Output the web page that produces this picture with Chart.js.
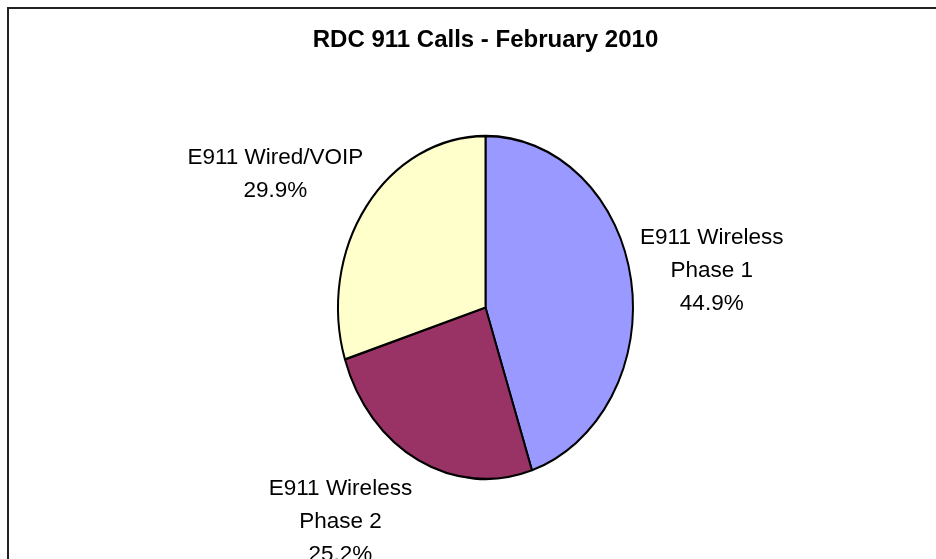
<!DOCTYPE html>
<html>
<head>
<meta charset="utf-8">
<script src="https://cdn.jsdelivr.net/npm/chart.js@4"></script>
<style>
    html, body { margin: 0; padding: 0; background: #fff; }
    #pieChart { display: block; }
</style>
</head>
<body>
<canvas id="pieChart" width="936" height="559"></canvas>
<script>
const chartTitle = 'RDC 911 Calls - February 2010';
const categories = [['E911 Wireless', 'Phase 1'], ['E911 Wireless', 'Phase 2'], ['E911 Wired/VOIP']];
const shares = [44.9, 25.2, 29.9];
const sliceColors = ['#9999FF', '#993366', '#FFFFCC'];

// pie is stretched vertically (plot area was taller than wide)
const Y_STRETCH = 171.5 / 147.5;
const LINE_H = 33;
// small manual nudges for label boxes, px
const labelShift = [[0, 0], [-41, 7], [-12, -6]];

const framePlugin = {
    id: 'frame',
    beforeDraw(chart) {
        const ctx = chart.ctx;
        ctx.save();
        ctx.fillStyle = '#fff';
        ctx.fillRect(0, 0, chart.width, chart.height);
        ctx.strokeStyle = '#222';
        ctx.lineWidth = 2;
        ctx.strokeRect(8, 8, chart.width + 20, chart.height + 20);
        ctx.restore();
    }
};

const stretchPlugin = {
    id: 'stretch',
    beforeDatasetsDraw(chart) {
        const arc = chart.getDatasetMeta(0).data[0];
        const ctx = chart.ctx;
        ctx.save();
        ctx.translate(arc.x, arc.y);
        ctx.scale(1, Y_STRETCH);
        ctx.translate(-arc.x, -arc.y);
    },
    afterDatasetsDraw(chart) {
        chart.ctx.restore();
    }
};

const labelPlugin = {
    id: 'outLabels',
    afterDraw(chart) {
        const ctx = chart.ctx;
        const meta = chart.getDatasetMeta(0);
        ctx.save();
        ctx.font = '22.5px "Liberation Sans", Arial, sans-serif';
        ctx.fillStyle = '#000';
        ctx.textAlign = 'center';
        ctx.textBaseline = 'middle';
        meta.data.forEach((arc, i) => {
            const lines = [...categories[i], shares[i].toFixed(1) + '%'];
            const mid = (arc.startAngle + arc.endAngle) / 2;
            const r = arc.outerRadius + 10;
            const px = arc.x + Math.cos(mid) * r;
            const py = arc.y + Math.sin(mid) * r * Y_STRETCH;
            const w = Math.max(...lines.map(l => ctx.measureText(l).width));
            const h = lines.length * LINE_H;
            const cx = px + Math.cos(mid) * w / 2 + labelShift[i][0];
            const cy = py + Math.sin(mid) * h / 2 + labelShift[i][1];
            lines.forEach((line, j) => {
                ctx.fillText(line, cx, cy + (j - (lines.length - 1) / 2) * LINE_H);
            });
        });
        ctx.restore();
    }
};

new Chart(document.getElementById('pieChart').getContext('2d'), {
    type: 'pie',
    data: {
        labels: categories.map(c => c.join(' ')),
        datasets: [{
            data: shares,
            backgroundColor: sliceColors,
            borderColor: '#000',
            borderWidth: 2,
            clip: false
        }]
    },
    options: {
        responsive: false,
        animation: false,
        radius: 147.5,
        layout: { padding: { left: 35, right: 0, top: 0, bottom: 8.8 } },
        plugins: {
            legend: { display: false },
            tooltip: { enabled: false },
            title: {
                display: true,
                text: chartTitle,
                color: '#000',
                font: { family: '"Liberation Sans", Arial, sans-serif', size: 24, weight: 'bold', lineHeight: 1.2 },
                padding: { top: 26, bottom: 10 }
            }
        }
    },
    plugins: [framePlugin, stretchPlugin, labelPlugin]
});
</script>
</body>
</html>
